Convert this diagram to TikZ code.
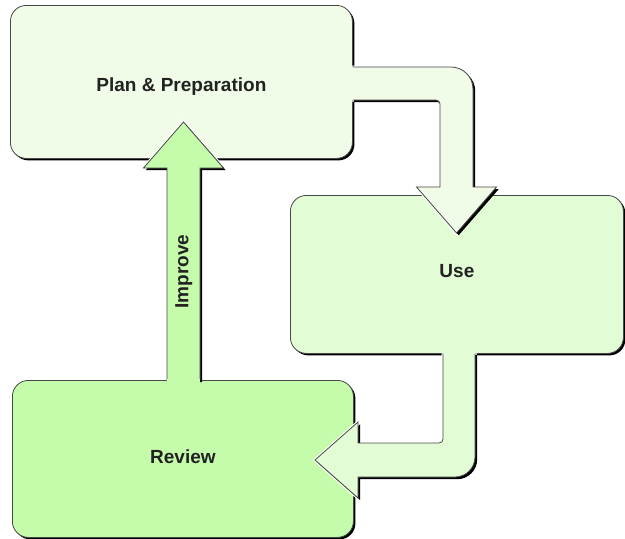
\documentclass[tikz,border=0pt]{standalone}
\usepackage{fontspec}
\setmainfont{Liberation Sans}
\usetikzlibrary{shadows}
\definecolor{planfill}{HTML}{F0FCE8}
\definecolor{usefill}{HTML}{E2FCD6}
\definecolor{reviewfill}{HTML}{C4FCAC}
\definecolor{edgegray}{HTML}{484848}
\definecolor{inkgray}{HTML}{222222}
% outlines of the three block arrows (open at the end that joins a stage)
\def\planusearrow{(352,67) -- (451,67) .. controls (463.15,67) and (473,76.85) .. (473,89)
  -- (473,187) -- (496.5,187) -- (456.5,233) -- (416.5,187) -- (440,187)
  -- (440,104) .. controls (440,101.8) and (438.2,100) .. (436,100) -- (352,100)}
\def\usereviewarrow{(475,353) -- (475,457) .. controls (475,468) and (466,477) .. (455,477)
  -- (358,477) -- (358,498) -- (315,460) -- (358,422) -- (358,443)
  -- (439,443) .. controls (441.2,443) and (443,441.2) .. (443,439) -- (443,353)}
\def\improvearrow{(167,380) -- (167,168) -- (143.5,168) -- (183.5,122) -- (223.5,168)
  -- (200,168) -- (200,380)}
\begin{document}
\begin{tikzpicture}[x=1pt,y=-1pt,
  stagebox/.style={draw=edgegray, line width=0.8pt, rounded corners=16pt,
    inner sep=0pt, anchor=north west, text=inkgray,
    text height=13.6pt, text depth=0pt,
    font=\bfseries\fontsize{19}{23}\selectfont,
    drop shadow={shadow xshift=2pt, shadow yshift=-2pt, opacity=1, fill=black}},
  arrowhalo/.style={draw=white, line width=3pt, line join=miter},
  arrowshadow/.style={fill=black, shift={(2.2,2.2)}},
  arrowbody/.style={draw=edgegray, line width=0.8pt, line join=miter},
  arrowlabel/.style={text=inkgray, text height=13.6pt, text depth=0pt,
    font=\bfseries\fontsize{19}{23}\selectfont}]
\useasboundingbox (0,0) rectangle (625,539);

% the three stages
\node[stagebox, fill=planfill, minimum width=342pt, minimum height=153pt,
  text height=19.6pt] (plan) at (10,5) {Plan \& Preparation};
\node[stagebox, fill=usefill, minimum width=333pt, minimum height=158pt,
  text depth=7pt] (use) at (290,195) {Use};
\node[stagebox, fill=reviewfill, minimum width=341pt, minimum height=157pt,
  text depth=4pt] (review) at (12,380) {Review};

% Plan -> Use
\path[arrowhalo] \planusearrow;
\path[arrowshadow] \planusearrow;
\path[arrowbody, fill=planfill] \planusearrow;
\fill[planfill] (348,67.4) rectangle (353,99.6);

% Use -> Review
\path[arrowhalo] \usereviewarrow;
\path[arrowshadow] \usereviewarrow;
\path[arrowbody, fill=usefill] \usereviewarrow;
\fill[usefill] (443.4,349) rectangle (474.6,354);

% Review -> Plan (Improve)
\path[arrowhalo] \improvearrow;
\path[arrowshadow] \improvearrow;
\path[arrowbody, fill=reviewfill] \improvearrow;
\fill[reviewfill] (167.4,379) rectangle (199.6,384);
\node[arrowlabel, rotate=90] (improve) at (181.5,271.5) {Improve};
\end{tikzpicture}
\end{document}
